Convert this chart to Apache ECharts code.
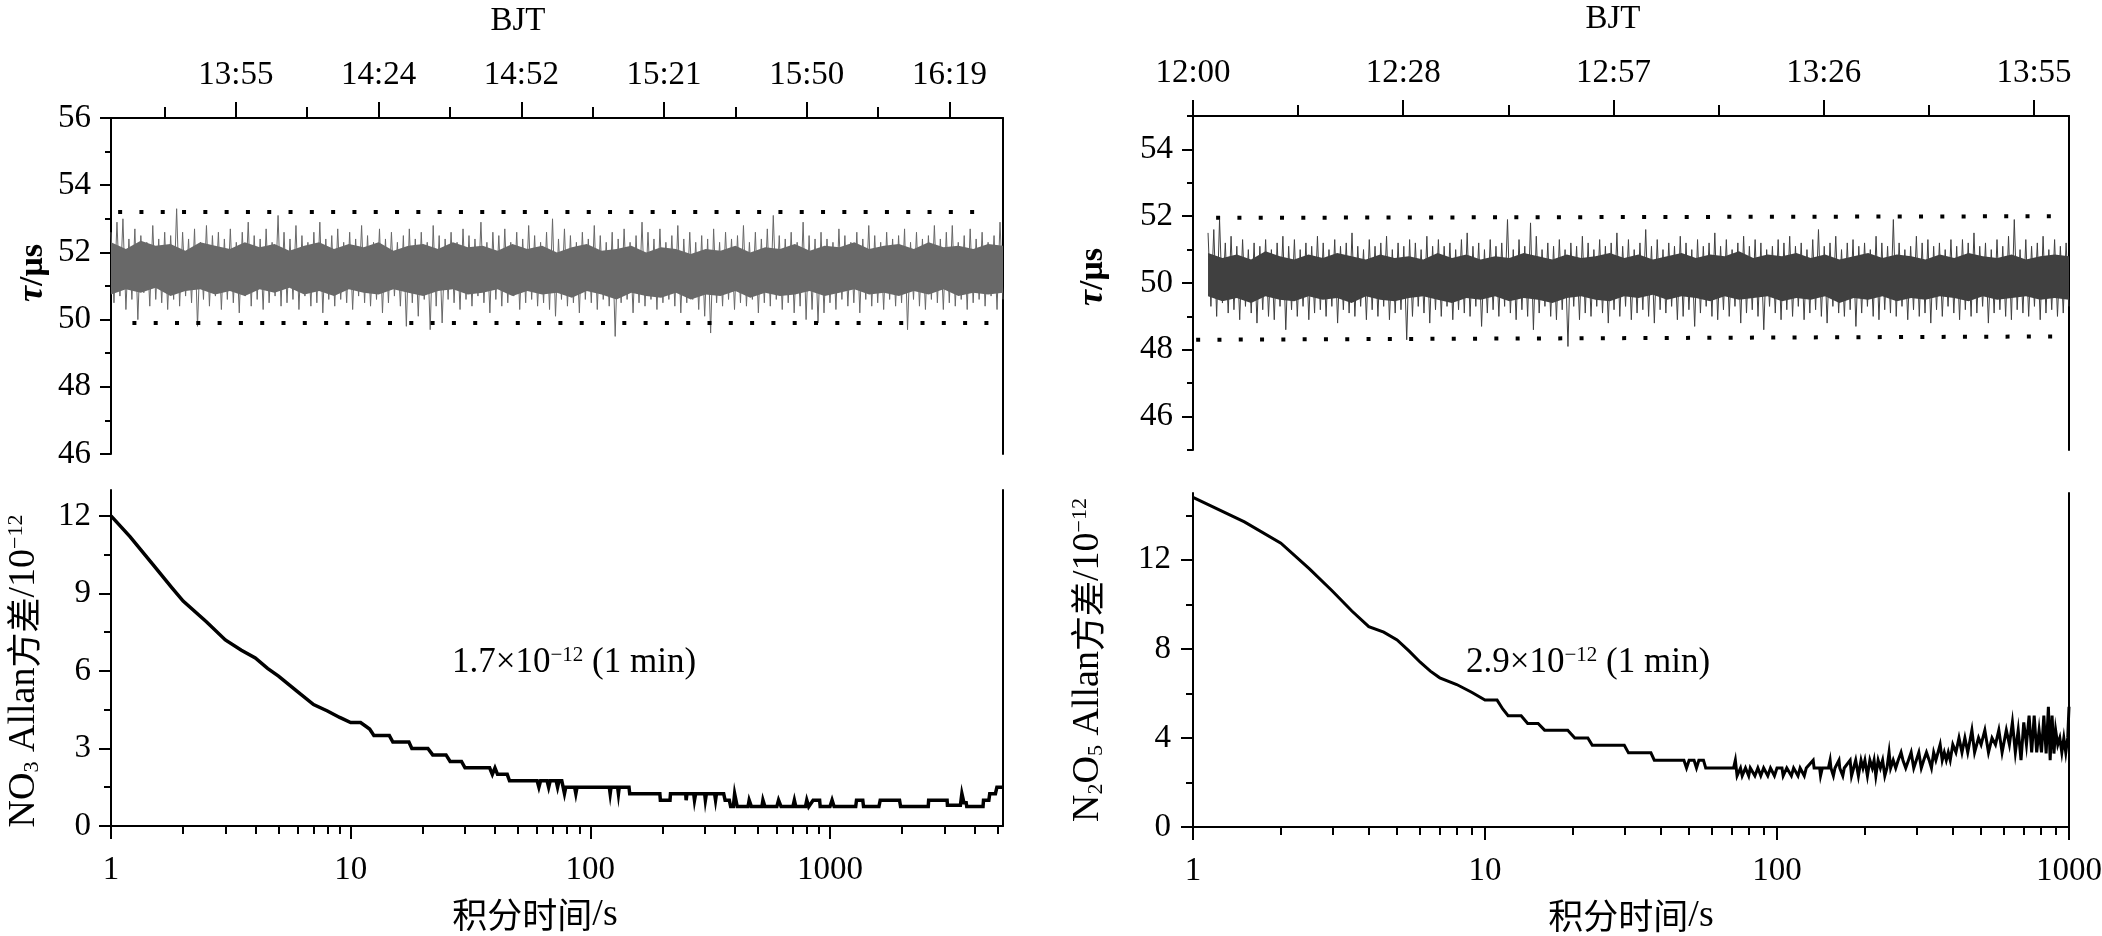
<!DOCTYPE html>
<html><head><meta charset="utf-8">
<script src="https://cdn.jsdelivr.net/npm/echarts@6/dist/echarts.min.js"></script>
<style>html,body{margin:0;padding:0;background:#fff}#c{width:2102px;height:936px}</style>
</head><body><div id="c"></div>
<script>
// ================= DATA =================
// time axes in fraction of a day (BJT)
const axisTimeA = [0.5625, 0.6875];      // 13:30 - 16:30
const axisTimeB = [0.5, 0.583333];       // 12:00 - 14:00
const noiseTimeA = [0.5625, 0.6875];
const noiseTimeB = [0.50143, 0.583333];

const bjtTicksA = [0.58, 0.60, 0.62, 0.64, 0.66, 0.68];
const bjtLabelsA = ['13:55', '14:24', '14:52', '15:21', '15:50', '16:19'];
const bjtMinorA = [0.57, 0.59, 0.61, 0.63, 0.65, 0.67];
const bjtTicksB = [0.50, 0.52, 0.54, 0.56, 0.58];
const bjtLabelsB = ['12:00', '12:28', '12:57', '13:26', '13:55'];
const bjtMinorB = [0.51, 0.53, 0.55, 0.57];

const tauTicksA = [46, 48, 50, 52, 54, 56];
const tauMinorA = [47, 49, 51, 53, 55];
const tauTicksB = [46, 48, 50, 52, 54];
const tauMinorB = [45, 47, 49, 51, 53, 55];

const allanTicksA = [0, 3, 6, 9, 12];
const allanMinorA = [1.5, 4.5, 7.5, 10.5];
const allanTicksB = [0, 4, 8, 12];
const allanMinorB = [2, 6, 10, 14];

const logTicks = [1, 10, 100, 1000];
const logMinorA = [2,3,4,5,6,7,8,9,20,30,40,50,60,70,80,90,200,300,400,500,600,700,800,900,2000,3000,4000,5000];
const logMinorB = [2,3,4,5,6,7,8,9,20,30,40,50,60,70,80,90,200,300,400,500,600,700,800,900];

// ring-down time tau (us), NO3 channel
const tauA = [
52.6,50.5,52.9,50.7,53.0,50.3,52.4,50.6,52.7,50.0,52.5,50.8,52.3,50.4,52.8,50.6,52.4,50.5,52.6,50.3,
52.5,50.6,53.3,50.4,52.6,50.7,52.4,50.5,52.7,49.8,52.3,50.6,52.8,50.4,52.5,50.7,52.6,50.3,52.4,50.6,
52.7,50.5,52.3,50.2,52.6,50.7,52.9,50.4,52.5,50.6,52.4,50.3,52.7,50.5,52.3,50.7,53.1,50.4,52.6,50.5,
52.4,50.6,52.8,50.3,52.5,50.7,52.3,50.4,52.6,50.5,52.9,50.2,52.4,50.6,52.5,50.4,52.7,50.6,52.3,50.5,
52.6,50.3,52.4,50.7,52.8,50.5,52.5,50.4,52.3,50.6,52.7,50.2,52.4,50.5,52.6,50.7,52.3,50.4,52.5,49.8,
52.7,50.5,52.4,50.1,52.6,50.6,52.3,49.7,52.8,50.4,52.5,49.9,52.4,50.6,52.6,50.5,52.3,50.3,52.7,50.6,
52.5,50.4,52.4,50.7,52.9,50.5,52.3,50.2,52.6,50.6,52.5,50.4,52.7,50.5,52.3,50.7,52.6,50.3,52.4,50.5,
52.8,50.6,52.5,50.4,52.3,50.5,52.6,50.3,53.0,50.1,52.4,50.6,52.7,50.4,52.5,50.5,52.3,50.2,52.6,50.6,
52.4,50.5,52.8,50.3,52.5,50.6,52.3,50.4,52.6,49.5,52.4,50.5,52.7,50.6,52.3,50.2,52.5,50.5,52.9,50.4,
52.6,50.6,52.4,50.3,52.7,50.5,52.3,50.6,52.5,50.4,52.8,50.2,52.4,50.5,52.6,50.6,52.3,50.3,52.5,50.1,
52.4,49.6,52.7,50.5,52.3,50.4,52.6,50.6,52.4,50.3,52.5,50.5,52.8,50.4,52.3,50.6,52.6,50.2,52.4,50.5,
52.7,50.4,53.1,50.6,52.5,50.3,52.4,50.5,52.6,50.2,52.3,50.4,52.9,50.0,52.5,50.3,52.4,49.9,52.6,50.2,
52.4,50.5,52.3,50.3,52.7,50.6,52.5,50.4,52.3,50.5,52.6,50.2,52.4,50.6,52.8,50.4,52.5,50.5,52.3,50.3,
52.6,50.6,52.4,50.4,52.5,50.5,52.7,49.7,52.3,50.6,52.6,50.4,52.4,50.3,52.5,50.6,52.8,50.5,52.4,50.3,
52.6,50.5,52.8,50.4,52.3,50.6,52.5,50.3,52.7,50.5,52.4,50.6,52.6,50.4,52.3,50.7,52.5,50.3,52.9,50.6
];
// ring-down time tau (us), N2O5 channel
const tauB = [
51.5,49.3,51.6,49.0,51.9,49.4,51.2,49.1,51.4,49.2,51.1,48.9,51.3,49.3,51.0,49.1,51.2,48.8,51.1,49.2,
51.3,49.0,51.0,48.9,51.2,49.3,51.4,48.6,51.1,49.2,51.3,49.0,51.0,49.3,51.2,48.9,51.1,49.1,51.4,49.2,
51.2,49.0,51.0,49.3,51.3,48.8,51.1,49.2,51.2,49.1,51.5,49.0,51.1,49.3,51.0,48.9,51.3,49.2,51.1,49.0,
51.2,49.3,51.4,48.9,51.0,49.1,51.2,49.2,51.1,48.3,51.3,49.0,51.2,49.3,51.0,49.1,51.4,48.8,51.1,49.2,
51.3,49.0,51.1,49.3,51.2,48.9,51.0,49.2,51.3,49.1,51.5,49.0,51.1,49.3,51.2,48.7,51.0,49.1,51.3,49.2,
51.1,49.0,51.2,49.3,51.9,49.1,51.0,48.9,51.3,49.2,51.1,49.0,51.8,48.6,51.4,49.1,51.0,49.3,51.2,49.0,
51.1,48.9,51.3,49.2,51.0,48.1,51.2,49.3,51.1,48.9,51.4,49.1,51.2,49.0,51.0,49.3,51.3,49.1,51.1,48.8,
51.2,49.2,51.5,49.0,51.1,49.3,51.3,48.9,51.0,49.1,51.2,49.2,51.6,49.0,51.1,48.8,51.3,49.2,51.0,49.1,
51.2,49.3,51.1,48.9,51.4,49.0,51.2,49.2,51.0,48.7,51.3,49.1,51.1,49.3,51.2,49.0,51.5,48.9,51.1,49.2,
51.3,49.0,51.0,49.3,51.2,48.8,51.4,49.1,51.1,49.2,51.3,49.0,51.2,48.6,51.0,49.3,51.1,49.1,51.3,48.9,
51.2,49.2,51.4,49.0,51.1,49.3,51.2,48.9,51.0,49.1,51.3,49.2,51.6,49.0,51.1,48.8,51.2,49.3,51.4,49.1,
51.0,49.0,51.2,49.2,51.3,48.7,51.1,49.1,51.2,49.3,51.0,49.0,51.4,48.9,51.2,49.2,51.1,49.1,51.9,49.0,
51.2,49.3,51.0,48.9,51.1,49.2,51.4,49.0,51.2,49.1,51.3,48.8,51.1,49.2,51.2,49.0,51.0,49.3,51.3,49.1,
51.1,48.9,51.3,49.2,51.2,49.0,51.5,49.1,51.1,49.3,51.2,48.8,51.0,49.1,51.3,49.2,51.1,49.0,51.4,48.9,
51.9,49.2,51.0,49.1,51.3,49.0,51.1,49.3,51.2,48.9,51.4,49.1,51.0,49.2,51.3,49.0,51.1,49.1,51.2,49.3
];
// dense core of the noise band (edges of the solid part, every 3 min)
const bandHighA = [52.3,52.1,52.35,52.2,52.25,52.05,52.3,52.2,52.1,52.3,52.15,52.25,52.05,52.2,52.3,52.1,52.25,52.15,52.3,52.05,52.2,52.25,52.1,52.3,52.15,52.2,52.05,52.25,52.1,52.2,52.0,52.15,52.25,52.05,52.1,52.2,52.0,52.15,52.1,51.95,52.1,52.05,52.2,52.0,52.15,52.1,52.25,52.05,52.2,52.15,52.3,52.1,52.2,52.25,52.1,52.3,52.15,52.2,52.1,52.25,52.2];
const bandLowA  = [50.75,50.9,50.8,50.95,50.7,50.85,50.9,50.75,50.85,50.7,50.9,50.8,50.95,50.75,50.85,50.7,50.9,50.8,50.75,50.9,50.8,50.7,50.85,50.9,50.75,50.8,50.9,50.7,50.85,50.75,50.8,50.65,50.85,50.75,50.6,50.8,50.7,50.65,50.8,50.6,50.75,50.7,50.85,50.65,50.8,50.7,50.75,50.85,50.7,50.8,50.9,50.75,50.8,50.7,50.85,50.75,50.9,50.7,50.8,50.75,50.8];
const bandHighB = [50.9,50.75,50.85,50.7,50.95,50.8,50.7,50.85,50.75,50.9,50.8,50.7,50.85,50.75,50.8,50.7,50.9,50.75,50.85,50.7,50.8,50.75,50.9,50.8,50.7,50.85,50.75,50.8,50.9,50.75,50.85,50.7,50.8,50.9,50.75,50.85,50.8,50.95,50.75,50.85,50.8,50.9,50.75,50.85,50.7,50.8,50.9,50.75,50.85,50.8,50.7,50.85,50.75,50.9,50.8,50.75,50.85,50.7,50.8,50.85,50.8];
const bandLowB  = [49.6,49.45,49.55,49.4,49.6,49.5,49.45,49.6,49.5,49.55,49.4,49.6,49.5,49.45,49.55,49.6,49.5,49.4,49.55,49.5,49.6,49.45,49.55,49.5,49.4,49.55,49.6,49.5,49.45,49.6,49.55,49.65,49.5,49.6,49.55,49.45,49.6,49.5,49.55,49.6,49.45,49.55,49.5,49.6,49.4,49.55,49.5,49.6,49.45,49.55,49.5,49.6,49.55,49.45,49.6,49.5,49.55,49.6,49.5,49.55,49.5];

// dotted limit lines [time, tau]
const dotUpperA = [[0.5635, 53.2], [0.6838, 53.2]];
const dotLowerA = [[0.5655, 49.9], [0.6860, 49.9]];
const dotUpperB = [[0.5022, 51.95], [0.5822, 52.0]];
const dotLowerB = [[0.5003, 48.3], [0.5822, 48.4]];

// Allan deviation [integration time s, 1e-12]
const allanA = [
[1,12.0],[1.2,11.2],[1.5,10.1],[1.8,9.2],[2,8.7],[2.5,7.9],[3,7.2],[3.5,6.8],[4,6.5],[4.5,6.1],[5,5.8],[6,5.2],[7,4.7],[8,4.45],[9,4.2],[10,4.0],[11,4.0],[12,3.75],[12.5,3.5],[14.5,3.5],[15,3.25],[17.5,3.25],[18,3.0],[21,3.0],[22,2.75],[25,2.75],[26,2.5],[29,2.5],[30,2.25],[38,2.25],[39,2.0],[40,2.25],[41,2.0],[45,2.0],[46,1.75],
[60,1.75],[61,1.5],[62,1.75],[66,1.75],[67,1.5],[68,1.75],[72,1.75],[73,1.5],[74,1.75],[76,1.75],[77,1.5],[78,1.25],[79,1.5],[86,1.5],[87,1.25],[88,1.5],[120,1.5],[121,1.25],[122,1.5],[130,1.5],[131,1.25],[132,1.5],[145,1.5],[146,1.25],[195,1.25],[196,1.0],[215,1.0],[216,1.25],
[250,1.25],[251,1.0],[253,1.25],[270,1.25],[272,1.0],[275,1.25],[300,1.25],[302,1.0],[305,1.25],[330,1.25],[333,1.0],[336,1.25],[360,1.25],[365,1.0],[380,1.0],[385,0.75],[395,0.75],[400,1.25],[405,1.0],[410,0.75],[455,0.75],[460,1.0],[470,0.75],[520,0.75],[525,1.0],[535,0.75],[600,0.75],[610,1.0],[625,0.75],[700,0.75],[710,1.0],[720,0.75],[790,0.75],[800,1.0],[815,0.75],
[850,1.0],[905,1.0],[910,0.75],[1000,0.75],[1020,1.0],[1040,0.75],[1280,0.75],[1290,1.0],[1370,1.0],[1380,0.75],[1600,0.75],[1620,1.0],[1950,1.0],[1970,0.75],[2570,0.75],[2580,1.0],[3080,1.0],[3090,0.8],[3500,0.8],[3550,1.25],[3620,0.9],[3700,0.9],[3720,0.75],[4350,0.75],[4370,1.0],[4600,1.0],[4640,1.25],[4900,1.25],[4970,1.5],[5270,1.5]
];
const allanB = [
[1,14.8],[1.5,13.7],[2,12.75],[2.5,11.6],[3,10.6],[3.5,9.7],[4,9.0],[4.5,8.75],[5,8.4],[5.5,7.9],[6,7.4],[6.5,7.0],[7,6.7],[8,6.4],[9,6.05],[10,5.7],[11,5.7],[11.5,5.3],[12,5.0],[13.3,5.0],[14,4.65],[15.2,4.65],[16,4.35],[19.2,4.35],[20.3,4.0],[22.5,4.0],[23.3,3.67],[30,3.67],[31,3.33],[37,3.33],[38,3.0],[48,3.0],[49,2.65],[50,3.0],[52,3.0],[53,2.65],[54,3.0],[56,3.0],[57,2.65],[71,2.65],[72,3.0],
[73,2.3],[75,2.65],[76,2.3],[78,2.65],[80,2.3],[81,2.65],[84,2.3],[86,2.65],[88,2.3],[90,2.65],[93,2.3],[95,2.65],[98,2.3],[100,2.65],[104,2.65],[105,2.3],[108,2.65],[112,2.3],[114,2.65],[118,2.3],[120,2.65],[124,2.3],[126,2.65],
[133,3.0],[134,2.65],[140,2.65],[141,2.3],[143,2.65],[150,2.65],[152,3.0],[153,2.65],[156,2.3],[158,2.65],[163,3.0],[164,2.65],[168,2.3],[170,2.65],
[178,3.0],[180,2.3],[183,2.65],[186,3.0],[190,2.3],[194,3.0],[197,2.65],[200,3.0],[204,2.3],[208,3.0],[212,2.65],
[215,3.0],[218,2.3],[222,3.0],[226,2.65],[230,3.0],[234,2.3],[238,2.65],[242,3.35],[245,2.65],
[250,3.0],[255,2.65],[260,3.0],[266,3.35],[270,3.0],[276,2.65],[282,3.0],[288,3.35],[294,2.65],[300,3.0],[306,3.35],[312,2.65],[318,3.0],[325,3.35],[332,3.0],[338,2.65],
[344,3.35],[350,3.0],[356,3.35],[362,3.7],[368,3.0],[374,3.35],[380,3.0],[386,3.35],[392,3.0],
[400,3.7],[410,3.35],[420,4.0],[430,3.35],[440,4.0],[450,3.35],[465,4.35],[475,3.35],[490,4.0],[500,3.7],[515,4.35],[530,3.35],[545,4.0],[560,3.7],[575,4.35],[590,3.35],[610,4.35],[625,3.7],[640,4.7],[655,3.35],[670,4.35],[685,3.0],
[700,4.7],[715,3.7],[730,5.0],[745,3.35],[760,5.0],[775,3.35],[790,4.35],[805,3.35],[820,5.0],[835,3.3],[850,5.4],[862,3.0],[875,5.0],[888,3.3],[900,4.35],[915,3.7],[930,4.0],[945,3.35],[960,4.0],[975,3.35],[990,4.0],[1000,5.4]
];

// ================= CHART =================
const FONT = 'Liberation Serif, serif';
const CJK = 'Noto Sans CJK SC, sans-serif';
const BLACK = '#000';
const axLine = {show: true, onZero: false, lineStyle: {color: BLACK, width: 2}};

function spread(vals, t) {
  return vals.map((v, i) => [t[0] + (t[1] - t[0]) * i / (vals.length - 1), v]);
}
function lookup(ticks, labels) {
  return v => { const i = ticks.findIndex(t => Math.abs(t - v) < 1e-6); return i >= 0 ? labels[i] : ''; };
}
function labelStyle(margin, ticks, fmt) {
  const s = {show: true, customValues: ticks, margin: margin, color: BLACK, fontFamily: FONT, fontSize: 33};
  if (fmt) s.formatter = fmt;
  return s;
}
function majorTick(ticks, len) { return {show: true, customValues: ticks, length: len, lineStyle: {color: BLACK, width: 2}}; }
function minorAxis(base, ticks, len) {
  return Object.assign({splitLine: {show: false}, axisLine: {show: false, onZero: false}, axisLabel: {show: false},
    axisTick: {show: true, customValues: ticks, length: len, lineStyle: {color: BLACK, width: 2}}}, base);
}
function borderAxis(grid, mn, mx) {
  return {type: 'value', gridIndex: grid, position: 'right', min: mn, max: mx, axisLine: axLine, axisTick: {show: false},
    axisLabel: {show: false}, splitLine: {show: false}};
}

const tauName = {
  rich: {
    t: {fontFamily: FONT, fontStyle: 'italic', fontWeight: 'bold', fontSize: 36, color: BLACK},
    u: {fontFamily: FONT, fontWeight: 'bold', fontSize: 34, color: BLACK}
  }
};
const allanRich = {
  n: {fontFamily: FONT, fontSize: 38, color: BLACK},
  c: {fontFamily: CJK, fontSize: 35, color: BLACK},
  sb: {fontFamily: FONT, fontSize: 22, color: BLACK, verticalAlign: 'bottom'},
  sp: {fontFamily: FONT, fontSize: 22, color: BLACK, verticalAlign: 'top'}
};
const xTitleRich = {
  c: {fontFamily: CJK, fontSize: 35, color: BLACK},
  n: {fontFamily: FONT, fontSize: 38, color: BLACK}
};

const grids = [
  {left: 111, top: 118, width: 892, height: 336},
  {left: 1193, top: 116, width: 876, height: 334},
  {left: 111, top: 490, width: 892, height: 336},
  {left: 1193, top: 493, width: 876, height: 334}
].map(g => Object.assign({containLabel: false, outerBoundsMode: 'none'}, g));

const xAxes = [
  // 0: top-left time axis
  {type: 'value', gridIndex: 0, position: 'top', min: axisTimeA[0], max: axisTimeA[1],
   axisLine: axLine, splitLine: {show: false}, axisTick: majorTick(bjtTicksA, 16),
   axisLabel: labelStyle(26, bjtTicksA, lookup(bjtTicksA, bjtLabelsA)),
   name: 'BJT', nameLocation: 'middle', nameGap: 80,
   nameTextStyle: {fontFamily: FONT, fontSize: 33, color: BLACK, padding: [0, 78, 0, 0]}},
  minorAxis({type: 'value', gridIndex: 0, position: 'top', min: axisTimeA[0], max: axisTimeA[1]}, bjtMinorA, 11),
  // 2: top-right time axis
  {type: 'value', gridIndex: 1, position: 'top', min: axisTimeB[0], max: axisTimeB[1],
   axisLine: axLine, splitLine: {show: false}, axisTick: majorTick(bjtTicksB, 16),
   axisLabel: labelStyle(26, bjtTicksB, lookup(bjtTicksB, bjtLabelsB)),
   name: 'BJT', nameLocation: 'middle', nameGap: 80,
   nameTextStyle: {fontFamily: FONT, fontSize: 33, color: BLACK, padding: [0, 36, 0, 0]}},
  minorAxis({type: 'value', gridIndex: 1, position: 'top', min: axisTimeB[0], max: axisTimeB[1]}, bjtMinorB, 11),
  // 4: bottom-left log axis
  {type: 'log', logBase: 10, gridIndex: 2, position: 'bottom', min: 1, max: 5270,
   axisLine: axLine, splitLine: {show: false}, axisTick: majorTick(logTicks, 13),
   axisLabel: labelStyle(28, logTicks, v => String(Math.round(v))),
   name: '{c|积分时间}{n|/s}', nameLocation: 'middle', nameGap: 70,
   nameTextStyle: {rich: xTitleRich, padding: [0, 44, 0, 0]}},
  minorAxis({type: 'log', logBase: 10, gridIndex: 2, position: 'bottom', min: 1, max: 5270}, logMinorA, 8),
  // 6: bottom-right log axis
  {type: 'log', logBase: 10, gridIndex: 3, position: 'bottom', min: 1, max: 1000,
   axisLine: axLine, splitLine: {show: false}, axisTick: majorTick(logTicks, 13),
   axisLabel: labelStyle(28, logTicks, v => String(Math.round(v))),
   name: '{c|积分时间}{n|/s}', nameLocation: 'middle', nameGap: 70,
   nameTextStyle: {rich: xTitleRich}},
  minorAxis({type: 'log', logBase: 10, gridIndex: 3, position: 'bottom', min: 1, max: 1000}, logMinorB, 8)
];

const yAxes = [
  // 0: top-left tau
  {type: 'value', gridIndex: 0, position: 'left', min: 46, max: 56, axisLine: axLine, splitLine: {show: false},
   axisTick: majorTick(tauTicksA, 11), axisLabel: labelStyle(20, tauTicksA),
   name: '{t|τ}{u|/μs}', nameLocation: 'middle', nameRotate: 90, nameGap: 60,
   nameTextStyle: Object.assign({padding: [0, 0, 0, 26]}, tauName)},
  minorAxis({type: 'value', gridIndex: 0, position: 'left', min: 46, max: 56}, tauMinorA, 6),
  borderAxis(0, 46, 56),
  // 3: top-right tau
  {type: 'value', gridIndex: 1, position: 'left', min: 45, max: 55, axisLine: axLine, splitLine: {show: false},
   axisTick: majorTick(tauTicksB, 11), axisLabel: labelStyle(20, tauTicksB),
   name: '{t|τ}{u|/μs}', nameLocation: 'middle', nameRotate: 90, nameGap: 82,
   nameTextStyle: Object.assign({padding: [0, 0, 0, 12]}, tauName)},
  minorAxis({type: 'value', gridIndex: 1, position: 'left', min: 45, max: 55}, tauMinorB, 6),
  borderAxis(1, 45, 55),
  // 6: bottom-left Allan
  {type: 'value', gridIndex: 2, position: 'left', min: 0, max: 13, axisLine: axLine, splitLine: {show: false},
   axisTick: majorTick(allanTicksA, 12), axisLabel: labelStyle(20, allanTicksA),
   name: '{n|NO}{sb|3}{n| Allan}{c|方差}{n|/10}{sp|−12}', nameLocation: 'middle', nameRotate: 90, nameGap: 68,
   nameTextStyle: {rich: allanRich, padding: [0, 26, 0, 0]}},
  minorAxis({type: 'value', gridIndex: 2, position: 'left', min: 0, max: 13}, allanMinorA, 7),
  borderAxis(2, 0, 13),
  // 9: bottom-right Allan
  {type: 'value', gridIndex: 3, position: 'left', min: 0, max: 15, axisLine: axLine, splitLine: {show: false},
   axisTick: majorTick(allanTicksB, 12), axisLabel: labelStyle(22, allanTicksB),
   name: '{n|N}{sb|2}{n|O}{sb|5}{n| Allan}{c|方差}{n|/10}{sp|−12}', nameLocation: 'middle', nameRotate: 90, nameGap: 86,
   nameTextStyle: {rich: allanRich}},
  minorAxis({type: 'value', gridIndex: 3, position: 'left', min: 0, max: 15}, allanMinorB, 7),
  borderAxis(3, 0, 15)
];

const GRAY_A = '#686868', GRAY_B = '#404040';
function band(low, high, t, xi, yi, color) {
  const lo = spread(low, t), hi = spread(high, t);
  return {type: 'custom', xAxisIndex: xi, yAxisIndex: yi, data: hi, clip: true, silent: true, z: 1,
    renderItem: (params, api) => {
      if (params.dataIndex !== 0) return null;
      const pts = hi.map(p => api.coord(p)).concat(lo.slice().reverse().map(p => api.coord(p)));
      return {type: 'polygon', shape: {points: pts}, style: {fill: color}};
    }};
}
function noise(vals, t, xi, yi, color) {
  return {type: 'line', xAxisIndex: xi, yAxisIndex: yi, data: spread(vals, t), showSymbol: false, symbol: 'none',
    lineStyle: {color: color, width: 1}, silent: true, z: 2};
}
function dotted(data, xi, yi) {
  return {type: 'line', xAxisIndex: xi, yAxisIndex: yi, data: data, showSymbol: false, symbol: 'none',
    lineStyle: {color: BLACK, width: 4, type: [4, 17.3], cap: 'butt'}, silent: true, z: 3};
}
function allan(data, xi, yi, w) {
  return {type: 'line', xAxisIndex: xi, yAxisIndex: yi, data: data, showSymbol: false, symbol: 'none',
    lineStyle: {color: BLACK, width: w, join: 'miter'}, silent: true, z: 3};
}

const series = [
  band(bandLowA, bandHighA, noiseTimeA, 0, 0, GRAY_A),
  noise(tauA, noiseTimeA, 0, 0, GRAY_A), dotted(dotUpperA, 0, 0), dotted(dotLowerA, 0, 0),
  band(bandLowB, bandHighB, noiseTimeB, 2, 3, GRAY_B),
  noise(tauB, noiseTimeB, 2, 3, GRAY_B), dotted(dotUpperB, 2, 3), dotted(dotLowerB, 2, 3),
  allan(allanA, 4, 6, 3.5), allan(allanB, 6, 9, 3)
];

const annRich = {
  a: {fontFamily: FONT, fontSize: 35, fill: BLACK},
  s: {fontFamily: FONT, fontSize: 21, fill: BLACK, verticalAlign: 'top'}
};

const chart = echarts.init(document.getElementById('c'), null, {renderer: 'canvas'});
chart.setOption({
  animation: false,
  backgroundColor: '#fff',
  grid: grids,
  xAxis: xAxes,
  yAxis: yAxes,
  series: series,
  graphic: [
    {type: 'text', left: 452, top: 645, style: {text: '{a|1.7×10}{s|−12}{a| (1 min)}', rich: annRich}},
    {type: 'text', left: 1466, top: 645, style: {text: '{a|2.9×10}{s|−12}{a| (1 min)}', rich: annRich}}
  ]
});
</script></body></html>
